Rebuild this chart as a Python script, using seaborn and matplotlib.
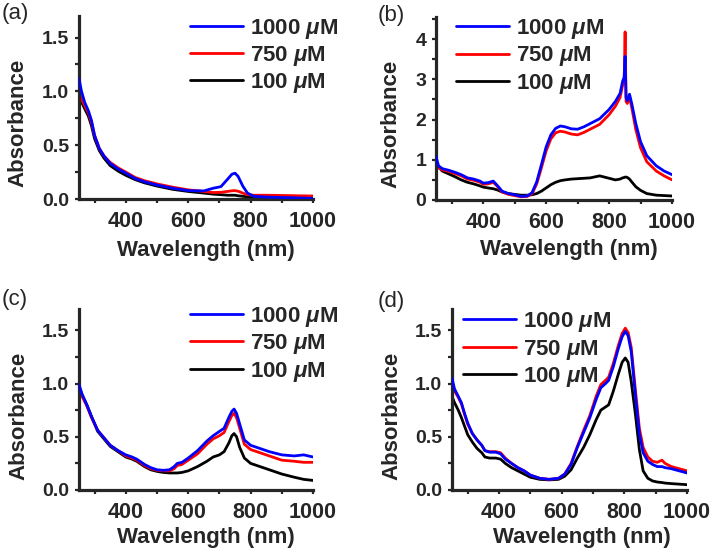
import numpy as np
import pandas as pd
import matplotlib
matplotlib.use('Agg')
import matplotlib.pyplot as plt
from matplotlib.ticker import MultipleLocator, FormatStrFormatter
import seaborn as sns

sns.set_style('ticks')
plt.rcParams['font.family'] = ['Liberation Sans', 'DejaVu Sans']
plt.rcParams['font.weight'] = 'bold'
plt.rcParams['mathtext.fontset'] = 'custom'
plt.rcParams['mathtext.rm'] = 'Liberation Sans:bold'
plt.rcParams['mathtext.it'] = 'Liberation Sans:italic:bold'

labels = ['1000 $\\mu$M', '750 $\\mu$M', '100 $\\mu$M']
colors = ['#0000ff', '#ff0000', '#000000']

# (a)
wl_a = [250, 258, 268, 280, 290, 300, 315, 330, 350, 375, 400, 430, 460, 500, 550,
        600, 650, 680, 705, 725, 740, 750, 760, 775, 790, 810, 850, 900, 950, 1000]
a_1000 = [1.12, 1.0, 0.9, 0.82, 0.73, 0.59, 0.47, 0.40, 0.33, 0.28, 0.24, 0.19, 0.16, 0.13, 0.10,
          0.078, 0.075, 0.10, 0.115, 0.18, 0.23, 0.24, 0.21, 0.12, 0.055, 0.025, 0.018, 0.014, 0.01, 0.006]
a_750 = [0.98, 0.93, 0.87, 0.80, 0.71, 0.59, 0.47, 0.40, 0.34, 0.29, 0.25, 0.20, 0.17, 0.14, 0.11,
         0.085, 0.07, 0.06, 0.062, 0.07, 0.076, 0.078, 0.072, 0.055, 0.04, 0.035, 0.035, 0.033, 0.03, 0.028]
a_100 = [0.93, 0.90, 0.84, 0.77, 0.68, 0.56, 0.45, 0.38, 0.31, 0.26, 0.22, 0.18, 0.15, 0.12, 0.09,
         0.07, 0.055, 0.045, 0.04, 0.035, 0.035, 0.035, 0.03, 0.025, 0.02, 0.015, 0.012, 0.01, 0.01, 0.008]

# (b)
wl_b = [250, 258, 270, 290, 310, 330, 350, 370, 390, 400, 415, 432, 445, 460, 480, 500, 520, 540,
        555, 570, 585, 600, 615, 630, 645, 660, 680, 700, 720, 740, 770, 800, 820, 835, 843, 848,
        851, 854, 858, 865, 872, 885, 900, 920, 950, 975, 1000]
b_1000 = [1.08, 0.85, 0.78, 0.74, 0.69, 0.63, 0.55, 0.52, 0.47, 0.42, 0.43, 0.47, 0.36, 0.22, 0.16, 0.13, 0.09, 0.10,
          0.18, 0.45, 0.88, 1.32, 1.62, 1.78, 1.84, 1.82, 1.77, 1.76, 1.82, 1.90, 2.02, 2.25, 2.45, 2.65, 2.95, 3.05,
          3.57, 2.55, 2.47, 2.63, 2.40, 1.90, 1.45, 1.10, 0.85, 0.72, 0.63]
b_750 = [0.98, 0.80, 0.75, 0.71, 0.66, 0.60, 0.52, 0.49, 0.44, 0.39, 0.40, 0.44, 0.34, 0.20, 0.14, 0.11, 0.08, 0.09,
         0.15, 0.40, 0.80, 1.22, 1.52, 1.67, 1.71, 1.69, 1.64, 1.62, 1.68, 1.76, 1.88, 2.12, 2.33, 2.55, 2.85, 2.95,
         4.18, 2.45, 2.40, 2.55, 2.30, 1.75, 1.30, 0.95, 0.72, 0.60, 0.50]
b_100 = [1.00, 0.82, 0.72, 0.65, 0.58, 0.50, 0.44, 0.40, 0.35, 0.32, 0.30, 0.28, 0.25, 0.20, 0.16, 0.14, 0.12, 0.12,
         0.13, 0.16, 0.22, 0.30, 0.38, 0.44, 0.48, 0.50, 0.52, 0.53, 0.54, 0.55, 0.60, 0.54, 0.50, 0.52, 0.55, 0.56,
         0.57, 0.57, 0.56, 0.52, 0.45, 0.33, 0.24, 0.16, 0.12, 0.11, 0.10]

# (c)
wl_c = [250, 260, 275, 290, 310, 330, 350, 375, 400, 420, 435, 460, 480, 500, 520, 540, 555, 565, 580,
        600, 630, 660, 680, 700, 715, 730, 740, 747, 755, 765, 780, 800, 830, 860, 900, 940, 970, 1000]
c_1000 = [0.99, 0.90, 0.80, 0.69, 0.56, 0.49, 0.42, 0.37, 0.33, 0.31, 0.29, 0.24, 0.21, 0.19, 0.185, 0.19, 0.22, 0.25, 0.26,
          0.30, 0.37, 0.46, 0.51, 0.55, 0.58, 0.68, 0.74, 0.76, 0.72, 0.62, 0.47, 0.42, 0.39, 0.36, 0.33, 0.32, 0.33, 0.31]
c_750 = [0.97, 0.88, 0.79, 0.68, 0.56, 0.49, 0.42, 0.37, 0.32, 0.30, 0.28, 0.23, 0.20, 0.185, 0.18, 0.18, 0.20, 0.23, 0.24,
         0.28, 0.34, 0.43, 0.48, 0.51, 0.54, 0.64, 0.70, 0.72, 0.68, 0.58, 0.43, 0.38, 0.35, 0.32, 0.28, 0.27, 0.26, 0.26]
c_100 = [0.97, 0.89, 0.80, 0.69, 0.55, 0.48, 0.41, 0.36, 0.31, 0.29, 0.27, 0.22, 0.19, 0.175, 0.165, 0.16, 0.16, 0.16, 0.165,
         0.18, 0.22, 0.27, 0.31, 0.33, 0.36, 0.44, 0.51, 0.53, 0.50, 0.40, 0.30, 0.25, 0.22, 0.19, 0.15, 0.12, 0.10, 0.09]

# (d)
wl_d = [250, 258, 270, 280, 290, 300, 315, 330, 345, 355, 370, 390, 405, 420, 440, 460, 480, 500, 530, 560,
        590, 610, 630, 650, 670, 690, 710, 725, 740, 750, 765, 780, 793, 803, 812, 822, 835, 848, 860, 875,
        890, 905, 920, 930, 950, 975, 1000]
d_1000 = [1.05, 0.95, 0.88, 0.82, 0.72, 0.63, 0.53, 0.47, 0.42, 0.37, 0.355, 0.355, 0.34, 0.29, 0.25, 0.21, 0.18, 0.14, 0.11, 0.10,
          0.11, 0.15, 0.24, 0.40, 0.54, 0.68, 0.85, 0.96, 1.00, 1.03, 1.16, 1.32, 1.44, 1.49, 1.45, 1.30, 0.90, 0.53, 0.35, 0.27,
          0.24, 0.22, 0.22, 0.21, 0.20, 0.18, 0.16]
d_750 = [1.00, 0.93, 0.87, 0.81, 0.71, 0.62, 0.53, 0.47, 0.42, 0.37, 0.36, 0.36, 0.35, 0.30, 0.25, 0.21, 0.18, 0.14, 0.11, 0.10,
         0.11, 0.15, 0.25, 0.41, 0.56, 0.70, 0.88, 0.99, 1.03, 1.06, 1.19, 1.35, 1.47, 1.52, 1.48, 1.34, 0.95, 0.58, 0.40, 0.31,
         0.27, 0.26, 0.28, 0.25, 0.22, 0.20, 0.18]
d_100 = [0.88, 0.82, 0.75, 0.68, 0.60, 0.52, 0.45, 0.39, 0.35, 0.31, 0.30, 0.30, 0.29, 0.25, 0.21, 0.18, 0.15, 0.12, 0.10, 0.095,
         0.10, 0.13, 0.19, 0.30, 0.40, 0.52, 0.66, 0.75, 0.78, 0.80, 0.93, 1.08, 1.20, 1.24, 1.20, 1.02, 0.72, 0.38, 0.18, 0.11,
         0.085, 0.075, 0.07, 0.065, 0.06, 0.055, 0.05]

W, H = 714, 556
fig = plt.figure(figsize=(W / 100, H / 100), dpi=100)


def px_axes(left, top, right, bottom):
    return fig.add_axes([left / W, (H - bottom) / H, (right - left) / W, (bottom - top) / H])


# tag, axes box (px), data, ymax, y step, legend anchor, tag pos, xlabel pos, ylabel pos
panels = [
    ('(a)', (79, 16, 313, 199), wl_a, [a_1000, a_750, a_100], 1.7, 0.5,
     (0.473, 0.997), (2, 14), (0.543, -0.279), (-0.261, 0.418)),
    ('(b)', (436, 17, 672, 200), wl_b, [b_1000, b_750, b_100], 4.55, 1,
     (0.085, 1.0), (378, 16), (0.564, -0.273), (-0.191, 0.415)),
    ('(c)', (79, 309, 313, 490), wl_c, [c_1000, c_750, c_100], 1.7, 0.5,
     (0.473, 1.023), (2, 300), (0.543, -0.265), (-0.256, 0.412)),
    ('(d)', (452, 309, 687, 490), wl_d, [d_1000, d_750, d_100], 1.7, 0.5,
     (0.047, 0.993), (378, 302), (0.553, -0.262), (-0.255, 0.412)),
]

for tag, box, wl, series, ymax, ystep, leg_pos, tag_pos, xl_pos, yl_pos in panels:
    ax = px_axes(*box)
    for vals, lab, col, z in zip(series, labels, colors, [3, 2, 1]):
        sns.lineplot(x=wl, y=vals, ax=ax, color=col, lw=2, label=lab,
                     sort=False, estimator=None, zorder=z)
    ax.set_xlim(250, 1000)
    ax.set_ylim(0, ymax)
    ax.xaxis.set_minor_locator(MultipleLocator(100))
    ax.yaxis.set_major_locator(MultipleLocator(ystep))
    ax.yaxis.set_minor_locator(MultipleLocator(ystep / 2))
    if ystep < 1:
        ax.yaxis.set_major_formatter(FormatStrFormatter('%.1f'))
    ax.set_xticks([400, 600, 800, 1000])
    sns.despine(ax=ax)
    for s in ['left', 'bottom']:
        ax.spines[s].set_linewidth(2.3)
    ax.tick_params(which='both', direction='out', length=3, width=1.6)
    ax.tick_params(axis='x', which='major', labelsize=15.5, pad=5.5)
    ax.tick_params(axis='y', which='major', labelsize=14, pad=4)
    for t in ax.get_xticklabels() + ax.get_yticklabels():
        t.set_fontweight('bold')
    ax.set_xlabel('Wavelength (nm)', fontsize=16, fontweight='bold')
    ax.set_ylabel('Absorbance', fontsize=16, fontweight='bold')
    ax.xaxis.set_label_coords(*xl_pos)
    ax.yaxis.set_label_coords(*yl_pos)
    ax.xaxis.label.set_va('center')
    ax.yaxis.label.set_va('center')
    ax.legend(loc='upper left', bbox_to_anchor=leg_pos, frameon=False,
              prop={'size': 16, 'weight': 'bold'}, handlelength=2.4,
              handletextpad=0.3, labelspacing=0.15, borderpad=0, borderaxespad=0)
    fig.text(tag_pos[0] / W, 1 - tag_pos[1] / H, tag, fontsize=16, fontweight='normal',
             ha='left', va='center')

fig.savefig('out.png', dpi=100)
